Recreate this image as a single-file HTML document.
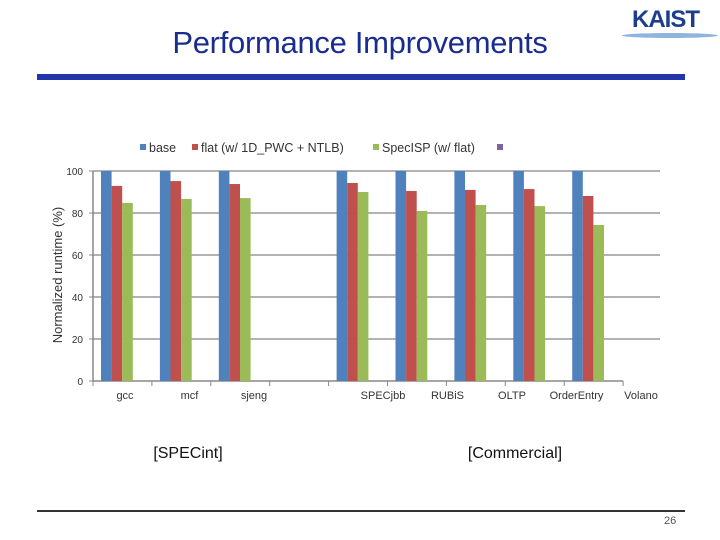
<!DOCTYPE html>
<html><head><meta charset="utf-8"><style>
body{margin:0;width:720px;height:540px;background:#fff;font-family:"Liberation Sans",sans-serif;overflow:hidden;position:relative}
</style></head><body>
<div style="position:absolute;left:0;width:720px;top:25px;text-align:center;font-size:31px;color:#1a2d8f;letter-spacing:-0.3px;padding-left:0px;box-sizing:border-box"><span style="position:relative;left:0px">Performance Improvements</span></div>
<div style="position:absolute;left:632px;top:6px;font-size:24px;font-weight:bold;color:#1c3e8c;letter-spacing:-1px">KAIST</div>
<div style="position:absolute;left:622px;top:33px;width:96px;height:5px;border-radius:50%;background:#8fb4de"></div>
<div style="position:absolute;left:37px;top:74px;width:648px;height:6px;background:#2236a8"></div>
<div style="position:absolute;left:37px;top:510px;width:648px;height:2px;background:#333"></div>
<div style="position:absolute;left:664px;top:515px;font-size:11px;color:#555">26</div>
<svg id="chart" width="720" height="540" style="position:absolute;left:0;top:0"></svg>
<script>
const categories=["gcc","mcf","sjeng","","SPECjbb","RUBiS","OLTP","OrderEntry","Volano"];
const baseVals=[100,100,100,null,100,100,100,100,100];
const flatVals=[92.9,95.2,93.8,null,94.3,90.5,91,91.4,88.1];
const specVals=[84.8,86.7,87.1,null,90,81,83.8,83.3,74.3];
const yTicks=[0,20,40,60,80,100];
const seriesNames=["base","flat (w/ 1D_PWC + NTLB)","SpecISP (w/ flat)"];
const colors=["#4f81bd","#c0504d","#9bbb59"];
const NS="http://www.w3.org/2000/svg";
const svg=document.getElementById('chart');
const x0=93,cw=58.9,yTop=171,yBot=381,xEnd=660,labStep=64.5;
const y=v=>yBot-(v/100)*(yBot-yTop);
const xc=i=>x0+i*cw;
function mk(t,a){const e=document.createElementNS(NS,t);for(const k in a)e.setAttribute(k,a[k]);svg.appendChild(e);return e;}
yTicks.forEach(t=>{
 const g=mk('line',{x1:x0,x2:t===0?x0+categories.length*cw:xEnd,y1:y(t),y2:y(t),stroke:t===0?'#888':'#999','stroke-width':1.5});
 
 const tl=mk('text',{x:x0-10,y:y(t)+4,'text-anchor':'end','font-size':10,fill:'#333'});tl.textContent=t;
 
 mk('line',{x1:x0-4,x2:x0,y1:y(t),y2:y(t),stroke:'#888'});
});
mk('line',{x1:x0,x2:x0,y1:yTop,y2:yBot,stroke:'#888','stroke-width':1.5});
for(let i=0;i<=categories.length;i++)mk('line',{x1:xc(i),x2:xc(i),y1:yBot,y2:yBot+5,stroke:'#888'});
const all=[baseVals,flatVals,specVals];
categories.forEach((c,i)=>{
 all.forEach((arr,s)=>{
  const v=arr[i];if(v==null)return;
  const r=mk('rect',{x:xc(i)+8+s*10.6,y:y(v),width:10.6,height:yBot-y(v),fill:colors[s]});
  
 });
 if(c){const t=mk('text',{x:125+i*labStep,y:399,'text-anchor':'middle','font-size':11,fill:'#333'});t.textContent=c;
 }
});
const yt=mk('text',{x:62,y:275,'text-anchor':'middle','font-size':13,fill:'#333',transform:'rotate(-90 62 275)'});yt.textContent='Normalized runtime (%)';

const lx=[138,190,371];
seriesNames.forEach((n,s)=>{
 mk('rect',{x:lx[s]+2,y:144,width:6,height:6,fill:colors[s]});
 const t=mk('text',{x:lx[s]+11,y:152,'font-size':12.5,fill:'#333'});t.textContent=n;
 
});
mk('rect',{x:497,y:144,width:6,height:6,fill:'#8064a2'});
[["[SPECint]",188],["[Commercial]",515]].forEach(([n,x])=>{
 const t=mk('text',{x:x,y:458,'text-anchor':'middle','font-size':16,fill:'#111'});t.textContent=n;
 
});
</script>
</body></html>
